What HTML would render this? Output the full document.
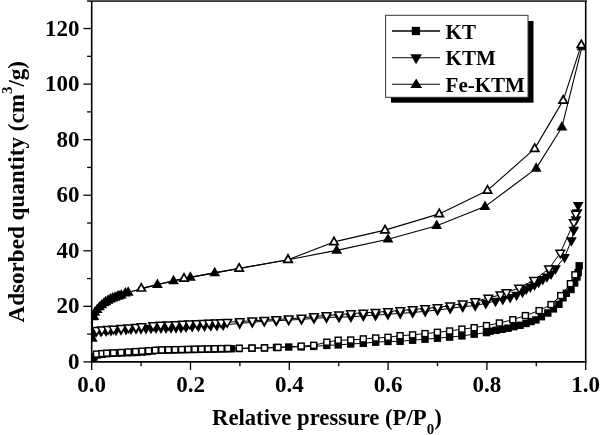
<!DOCTYPE html>
<html><head><meta charset="utf-8"><style>
html,body{margin:0;padding:0;background:#fff;}
body{width:600px;height:435px;overflow:hidden;font-family:"Liberation Serif",serif;}
svg{display:block;will-change:transform;}
</style></head><body>
<svg width="600" height="435" viewBox="0 0 600 435">
<defs><clipPath id="pc"><rect x="91.70" y="0" width="494.00" height="361.90"/></clipPath></defs>
<rect width="600" height="435" fill="#fff"/>
<g clip-path="url(#pc)">
<polyline points="92.80,358.80 94.00,357.00 97.00,355.00 102.00,354.35 107.00,353.69 112.00,353.23 117.00,353.07 122.00,352.90 127.00,352.73 132.00,352.57 137.00,352.40 142.00,352.09 147.00,351.56 152.00,351.04 158.60,350.35 165.20,350.10 171.80,349.96 178.40,349.83 185.00,349.70 191.60,349.57 198.20,349.44 204.80,349.30 211.40,349.17 218.00,349.04 224.60,348.91 231.20,348.77 239.30,348.56 252.00,348.23 264.50,347.91 276.50,347.47 288.70,347.01 301.20,346.90 313.70,346.40 326.80,345.40 338.20,344.90 350.70,344.00 363.30,343.30 375.70,342.20 388.00,341.50 400.10,341.30 412.60,340.20 425.00,339.20 437.40,338.20 449.60,337.10 461.90,335.90 474.20,334.20 486.50,332.60 490.00,331.20 496.00,330.30 502.00,329.30 508.00,328.20 514.00,326.70 520.00,325.30 526.00,323.50 531.00,321.50 535.90,319.90 541.40,316.70 547.80,313.00 553.40,308.90 558.90,304.30 563.00,297.80 566.30,293.30 571.00,289.50 574.60,283.00 577.00,277.00 578.20,272.50 579.20,265.80" fill="none" stroke="#000" stroke-width="1.00" stroke-linejoin="round"/>
<polyline points="96.50,354.10 102.00,353.60 106.70,353.20 113.50,352.90 121.00,352.50 128.30,352.00 135.60,351.60 142.00,351.17 148.60,350.74 155.20,350.31 161.80,349.96 168.40,349.81 175.00,349.66 181.60,349.51 188.20,349.36 194.80,349.20 201.40,349.05 208.00,348.90 214.60,348.75 221.20,348.60 227.80,348.45 239.30,348.27 252.00,348.09 264.50,347.91 278.00,347.43 301.20,346.10 313.70,345.30 326.80,342.20 338.20,340.20 350.70,340.00 363.30,338.90 375.70,338.00 388.00,337.30 400.10,335.70 412.60,334.85 425.00,333.60 437.40,332.30 449.60,331.00 461.90,329.10 474.20,327.70 486.50,325.60 499.40,323.00 512.80,319.70 525.40,315.60 539.10,310.60 551.00,304.60 560.70,295.60 570.40,283.70 574.90,274.80" fill="none" stroke="#000" stroke-width="1.00" stroke-linejoin="round"/>
<polyline points="93.50,332.00 96.00,331.89 101.00,331.39 106.00,330.70 111.00,330.37 116.00,330.02 121.00,329.62 126.00,329.23 131.00,328.87 136.00,328.65 141.00,328.45 146.00,328.20 151.00,327.99 156.00,327.92 161.00,327.85 166.00,327.77 171.00,327.60 176.00,327.43 181.00,327.23 186.00,326.85 192.20,326.39 198.40,326.00 204.60,325.74 210.80,325.48 217.00,325.20 223.20,324.89 239.70,323.47 252.30,322.25 264.30,321.28 276.30,320.68 288.70,320.05 301.50,319.40 314.00,318.40 326.50,317.50 339.00,317.10 350.90,316.90 363.30,315.80 375.50,315.20 387.90,314.20 400.20,313.40 412.70,312.50 425.20,311.30 437.50,310.00 450.20,308.40 462.70,306.70 475.20,305.50 485.80,303.30 495.50,301.00 502.80,299.20 510.20,297.30 516.60,295.00 522.50,292.00 526.20,289.00 530.30,286.90 534.50,284.80 538.60,282.10 542.80,279.30 546.90,276.60 551.00,273.80 555.50,268.50 564.50,257.30 571.40,240.50 573.80,230.00 576.00,219.50 577.20,212.50 578.20,205.20" fill="none" stroke="#000" stroke-width="1.00" stroke-linejoin="round"/>
<polyline points="96.70,330.21 102.00,329.79 108.00,329.32 113.50,328.89 121.25,328.28 128.50,327.71 136.00,327.11 141.50,326.57 153.20,325.37 160.70,325.03 168.40,324.68 175.70,324.35 183.00,324.03 189.50,323.74 196.80,323.44 203.30,323.18 209.10,322.95 215.60,322.68 221.20,322.46 227.20,322.21 239.70,321.54 252.30,320.82 264.30,320.13 276.30,319.45 288.70,318.73 301.50,318.00 314.00,316.50 326.50,315.50 339.00,314.70 350.90,313.50 363.30,312.90 375.50,312.20 387.90,311.40 400.20,310.50 412.70,309.50 425.20,308.40 437.50,307.40 450.20,305.70 462.70,303.60 475.20,301.50 488.30,298.00 500.50,294.80 506.50,292.50 519.10,287.90 534.10,280.20 549.00,268.70 560.30,252.90 573.80,222.40 575.80,214.00" fill="none" stroke="#000" stroke-width="1.00" stroke-linejoin="round"/>
<polyline points="92.30,338.40 92.60,317.00 93.90,316.70 94.90,312.40 97.20,309.70 99.50,307.00 101.80,305.00 104.10,303.00 105.80,301.90 108.10,300.40 110.40,299.20 112.70,298.20 115.00,297.40 117.30,296.50 119.00,295.90 121.30,295.20 125.40,293.20 128.20,292.40 157.40,284.70 173.50,280.90 190.40,277.40 214.70,272.90 288.00,259.70 336.70,250.40 388.00,239.30 436.70,225.70 485.00,206.60 536.20,168.40 561.90,127.20 582.00,46.90" fill="none" stroke="#000" stroke-width="1.10" stroke-linejoin="round"/>
<polyline points="141.30,288.30 184.00,278.40 239.20,268.40 288.00,259.70 334.00,241.90 385.00,230.10 439.20,213.90 487.50,190.40 534.70,148.60 563.20,100.40 581.30,44.80" fill="none" stroke="#000" stroke-width="1.10" stroke-linejoin="round"/>
<rect x="89.10" y="355.10" width="7.40" height="7.40" fill="#000"/>
<rect x="90.30" y="353.30" width="7.40" height="7.40" fill="#000"/>
<rect x="93.30" y="351.30" width="7.40" height="7.40" fill="#000"/>
<rect x="98.30" y="350.65" width="7.40" height="7.40" fill="#000"/>
<rect x="103.30" y="349.99" width="7.40" height="7.40" fill="#000"/>
<rect x="108.30" y="349.53" width="7.40" height="7.40" fill="#000"/>
<rect x="113.30" y="349.37" width="7.40" height="7.40" fill="#000"/>
<rect x="118.30" y="349.20" width="7.40" height="7.40" fill="#000"/>
<rect x="123.30" y="349.03" width="7.40" height="7.40" fill="#000"/>
<rect x="128.30" y="348.87" width="7.40" height="7.40" fill="#000"/>
<rect x="133.30" y="348.70" width="7.40" height="7.40" fill="#000"/>
<rect x="138.30" y="348.39" width="7.40" height="7.40" fill="#000"/>
<rect x="143.30" y="347.87" width="7.40" height="7.40" fill="#000"/>
<rect x="148.30" y="347.34" width="7.40" height="7.40" fill="#000"/>
<rect x="154.90" y="346.65" width="7.40" height="7.40" fill="#000"/>
<rect x="161.50" y="346.40" width="7.40" height="7.40" fill="#000"/>
<rect x="168.10" y="346.26" width="7.40" height="7.40" fill="#000"/>
<rect x="174.70" y="346.13" width="7.40" height="7.40" fill="#000"/>
<rect x="181.30" y="346.00" width="7.40" height="7.40" fill="#000"/>
<rect x="187.90" y="345.87" width="7.40" height="7.40" fill="#000"/>
<rect x="194.50" y="345.74" width="7.40" height="7.40" fill="#000"/>
<rect x="201.10" y="345.60" width="7.40" height="7.40" fill="#000"/>
<rect x="207.70" y="345.47" width="7.40" height="7.40" fill="#000"/>
<rect x="214.30" y="345.34" width="7.40" height="7.40" fill="#000"/>
<rect x="220.90" y="345.21" width="7.40" height="7.40" fill="#000"/>
<rect x="227.50" y="345.07" width="7.40" height="7.40" fill="#000"/>
<rect x="235.60" y="344.86" width="7.40" height="7.40" fill="#000"/>
<rect x="248.30" y="344.53" width="7.40" height="7.40" fill="#000"/>
<rect x="260.80" y="344.21" width="7.40" height="7.40" fill="#000"/>
<rect x="272.80" y="343.77" width="7.40" height="7.40" fill="#000"/>
<rect x="285.00" y="343.31" width="7.40" height="7.40" fill="#000"/>
<rect x="297.50" y="343.20" width="7.40" height="7.40" fill="#000"/>
<rect x="310.00" y="342.70" width="7.40" height="7.40" fill="#000"/>
<rect x="323.10" y="341.70" width="7.40" height="7.40" fill="#000"/>
<rect x="334.50" y="341.20" width="7.40" height="7.40" fill="#000"/>
<rect x="347.00" y="340.30" width="7.40" height="7.40" fill="#000"/>
<rect x="359.60" y="339.60" width="7.40" height="7.40" fill="#000"/>
<rect x="372.00" y="338.50" width="7.40" height="7.40" fill="#000"/>
<rect x="384.30" y="337.80" width="7.40" height="7.40" fill="#000"/>
<rect x="396.40" y="337.60" width="7.40" height="7.40" fill="#000"/>
<rect x="408.90" y="336.50" width="7.40" height="7.40" fill="#000"/>
<rect x="421.30" y="335.50" width="7.40" height="7.40" fill="#000"/>
<rect x="433.70" y="334.50" width="7.40" height="7.40" fill="#000"/>
<rect x="445.90" y="333.40" width="7.40" height="7.40" fill="#000"/>
<rect x="458.20" y="332.20" width="7.40" height="7.40" fill="#000"/>
<rect x="470.50" y="330.50" width="7.40" height="7.40" fill="#000"/>
<rect x="482.80" y="328.90" width="7.40" height="7.40" fill="#000"/>
<rect x="486.30" y="327.50" width="7.40" height="7.40" fill="#000"/>
<rect x="492.30" y="326.60" width="7.40" height="7.40" fill="#000"/>
<rect x="498.30" y="325.60" width="7.40" height="7.40" fill="#000"/>
<rect x="504.30" y="324.50" width="7.40" height="7.40" fill="#000"/>
<rect x="510.30" y="323.00" width="7.40" height="7.40" fill="#000"/>
<rect x="516.30" y="321.60" width="7.40" height="7.40" fill="#000"/>
<rect x="522.30" y="319.80" width="7.40" height="7.40" fill="#000"/>
<rect x="527.30" y="317.80" width="7.40" height="7.40" fill="#000"/>
<rect x="532.20" y="316.20" width="7.40" height="7.40" fill="#000"/>
<rect x="537.70" y="313.00" width="7.40" height="7.40" fill="#000"/>
<rect x="544.10" y="309.30" width="7.40" height="7.40" fill="#000"/>
<rect x="549.70" y="305.20" width="7.40" height="7.40" fill="#000"/>
<rect x="555.20" y="300.60" width="7.40" height="7.40" fill="#000"/>
<rect x="559.30" y="294.10" width="7.40" height="7.40" fill="#000"/>
<rect x="562.60" y="289.60" width="7.40" height="7.40" fill="#000"/>
<rect x="567.30" y="285.80" width="7.40" height="7.40" fill="#000"/>
<rect x="570.90" y="279.30" width="7.40" height="7.40" fill="#000"/>
<rect x="573.30" y="273.30" width="7.40" height="7.40" fill="#000"/>
<rect x="574.50" y="268.80" width="7.40" height="7.40" fill="#000"/>
<rect x="575.50" y="262.10" width="7.40" height="7.40" fill="#000"/>
<rect x="92.80" y="350.40" width="7.40" height="7.40" fill="#000"/><rect x="94.25" y="351.85" width="4.50" height="4.50" fill="#fff"/>
<rect x="98.30" y="349.90" width="7.40" height="7.40" fill="#000"/><rect x="99.75" y="351.35" width="4.50" height="4.50" fill="#fff"/>
<rect x="103.00" y="349.50" width="7.40" height="7.40" fill="#000"/><rect x="104.45" y="350.95" width="4.50" height="4.50" fill="#fff"/>
<rect x="109.80" y="349.20" width="7.40" height="7.40" fill="#000"/><rect x="111.25" y="350.65" width="4.50" height="4.50" fill="#fff"/>
<rect x="117.30" y="348.80" width="7.40" height="7.40" fill="#000"/><rect x="118.75" y="350.25" width="4.50" height="4.50" fill="#fff"/>
<rect x="124.60" y="348.30" width="7.40" height="7.40" fill="#000"/><rect x="126.05" y="349.75" width="4.50" height="4.50" fill="#fff"/>
<rect x="131.90" y="347.90" width="7.40" height="7.40" fill="#000"/><rect x="133.35" y="349.35" width="4.50" height="4.50" fill="#fff"/>
<rect x="138.30" y="347.47" width="7.40" height="7.40" fill="#000"/><rect x="139.75" y="348.92" width="4.50" height="4.50" fill="#fff"/>
<rect x="144.90" y="347.04" width="7.40" height="7.40" fill="#000"/><rect x="146.35" y="348.49" width="4.50" height="4.50" fill="#fff"/>
<rect x="151.50" y="346.61" width="7.40" height="7.40" fill="#000"/><rect x="152.95" y="348.06" width="4.50" height="4.50" fill="#fff"/>
<rect x="158.10" y="346.26" width="7.40" height="7.40" fill="#000"/><rect x="159.55" y="347.71" width="4.50" height="4.50" fill="#fff"/>
<rect x="164.70" y="346.11" width="7.40" height="7.40" fill="#000"/><rect x="166.15" y="347.56" width="4.50" height="4.50" fill="#fff"/>
<rect x="171.30" y="345.96" width="7.40" height="7.40" fill="#000"/><rect x="172.75" y="347.41" width="4.50" height="4.50" fill="#fff"/>
<rect x="177.90" y="345.81" width="7.40" height="7.40" fill="#000"/><rect x="179.35" y="347.26" width="4.50" height="4.50" fill="#fff"/>
<rect x="184.50" y="345.66" width="7.40" height="7.40" fill="#000"/><rect x="185.95" y="347.11" width="4.50" height="4.50" fill="#fff"/>
<rect x="191.10" y="345.50" width="7.40" height="7.40" fill="#000"/><rect x="192.55" y="346.95" width="4.50" height="4.50" fill="#fff"/>
<rect x="197.70" y="345.35" width="7.40" height="7.40" fill="#000"/><rect x="199.15" y="346.80" width="4.50" height="4.50" fill="#fff"/>
<rect x="204.30" y="345.20" width="7.40" height="7.40" fill="#000"/><rect x="205.75" y="346.65" width="4.50" height="4.50" fill="#fff"/>
<rect x="210.90" y="345.05" width="7.40" height="7.40" fill="#000"/><rect x="212.35" y="346.50" width="4.50" height="4.50" fill="#fff"/>
<rect x="217.50" y="344.90" width="7.40" height="7.40" fill="#000"/><rect x="218.95" y="346.35" width="4.50" height="4.50" fill="#fff"/>
<rect x="224.10" y="344.75" width="7.40" height="7.40" fill="#000"/><rect x="225.55" y="346.20" width="4.50" height="4.50" fill="#fff"/>
<rect x="235.60" y="344.57" width="7.40" height="7.40" fill="#000"/><rect x="237.05" y="346.02" width="4.50" height="4.50" fill="#fff"/>
<rect x="248.30" y="344.39" width="7.40" height="7.40" fill="#000"/><rect x="249.75" y="345.84" width="4.50" height="4.50" fill="#fff"/>
<rect x="260.80" y="344.21" width="7.40" height="7.40" fill="#000"/><rect x="262.25" y="345.66" width="4.50" height="4.50" fill="#fff"/>
<rect x="274.30" y="343.73" width="7.40" height="7.40" fill="#000"/><rect x="275.75" y="345.18" width="4.50" height="4.50" fill="#fff"/>
<rect x="297.50" y="342.40" width="7.40" height="7.40" fill="#000"/><rect x="298.95" y="343.85" width="4.50" height="4.50" fill="#fff"/>
<rect x="310.00" y="341.60" width="7.40" height="7.40" fill="#000"/><rect x="311.45" y="343.05" width="4.50" height="4.50" fill="#fff"/>
<rect x="323.10" y="338.50" width="7.40" height="7.40" fill="#000"/><rect x="324.55" y="339.95" width="4.50" height="4.50" fill="#fff"/>
<rect x="334.50" y="336.50" width="7.40" height="7.40" fill="#000"/><rect x="335.95" y="337.95" width="4.50" height="4.50" fill="#fff"/>
<rect x="347.00" y="336.30" width="7.40" height="7.40" fill="#000"/><rect x="348.45" y="337.75" width="4.50" height="4.50" fill="#fff"/>
<rect x="359.60" y="335.20" width="7.40" height="7.40" fill="#000"/><rect x="361.05" y="336.65" width="4.50" height="4.50" fill="#fff"/>
<rect x="372.00" y="334.30" width="7.40" height="7.40" fill="#000"/><rect x="373.45" y="335.75" width="4.50" height="4.50" fill="#fff"/>
<rect x="384.30" y="333.60" width="7.40" height="7.40" fill="#000"/><rect x="385.75" y="335.05" width="4.50" height="4.50" fill="#fff"/>
<rect x="396.40" y="332.00" width="7.40" height="7.40" fill="#000"/><rect x="397.85" y="333.45" width="4.50" height="4.50" fill="#fff"/>
<rect x="408.90" y="331.15" width="7.40" height="7.40" fill="#000"/><rect x="410.35" y="332.60" width="4.50" height="4.50" fill="#fff"/>
<rect x="421.30" y="329.90" width="7.40" height="7.40" fill="#000"/><rect x="422.75" y="331.35" width="4.50" height="4.50" fill="#fff"/>
<rect x="433.70" y="328.60" width="7.40" height="7.40" fill="#000"/><rect x="435.15" y="330.05" width="4.50" height="4.50" fill="#fff"/>
<rect x="445.90" y="327.30" width="7.40" height="7.40" fill="#000"/><rect x="447.35" y="328.75" width="4.50" height="4.50" fill="#fff"/>
<rect x="458.20" y="325.40" width="7.40" height="7.40" fill="#000"/><rect x="459.65" y="326.85" width="4.50" height="4.50" fill="#fff"/>
<rect x="470.50" y="324.00" width="7.40" height="7.40" fill="#000"/><rect x="471.95" y="325.45" width="4.50" height="4.50" fill="#fff"/>
<rect x="482.80" y="321.90" width="7.40" height="7.40" fill="#000"/><rect x="484.25" y="323.35" width="4.50" height="4.50" fill="#fff"/>
<rect x="495.70" y="319.30" width="7.40" height="7.40" fill="#000"/><rect x="497.15" y="320.75" width="4.50" height="4.50" fill="#fff"/>
<rect x="509.10" y="316.00" width="7.40" height="7.40" fill="#000"/><rect x="510.55" y="317.45" width="4.50" height="4.50" fill="#fff"/>
<rect x="521.70" y="311.90" width="7.40" height="7.40" fill="#000"/><rect x="523.15" y="313.35" width="4.50" height="4.50" fill="#fff"/>
<rect x="535.40" y="306.90" width="7.40" height="7.40" fill="#000"/><rect x="536.85" y="308.35" width="4.50" height="4.50" fill="#fff"/>
<rect x="547.30" y="300.90" width="7.40" height="7.40" fill="#000"/><rect x="548.75" y="302.35" width="4.50" height="4.50" fill="#fff"/>
<rect x="557.00" y="291.90" width="7.40" height="7.40" fill="#000"/><rect x="558.45" y="293.35" width="4.50" height="4.50" fill="#fff"/>
<rect x="566.70" y="280.00" width="7.40" height="7.40" fill="#000"/><rect x="568.15" y="281.45" width="4.50" height="4.50" fill="#fff"/>
<rect x="571.20" y="271.10" width="7.40" height="7.40" fill="#000"/><rect x="572.65" y="272.55" width="4.50" height="4.50" fill="#fff"/>
<polygon points="88.10,328.80 98.90,328.80 93.50,338.20" fill="#000"/>
<polygon points="90.60,328.69 101.40,328.69 96.00,338.09" fill="#000"/>
<polygon points="95.60,328.19 106.40,328.19 101.00,337.59" fill="#000"/>
<polygon points="100.60,327.50 111.40,327.50 106.00,336.90" fill="#000"/>
<polygon points="105.60,327.17 116.40,327.17 111.00,336.57" fill="#000"/>
<polygon points="110.60,326.82 121.40,326.82 116.00,336.22" fill="#000"/>
<polygon points="115.60,326.42 126.40,326.42 121.00,335.82" fill="#000"/>
<polygon points="120.60,326.03 131.40,326.03 126.00,335.43" fill="#000"/>
<polygon points="125.60,325.67 136.40,325.67 131.00,335.07" fill="#000"/>
<polygon points="130.60,325.45 141.40,325.45 136.00,334.85" fill="#000"/>
<polygon points="135.60,325.25 146.40,325.25 141.00,334.65" fill="#000"/>
<polygon points="140.60,325.00 151.40,325.00 146.00,334.40" fill="#000"/>
<polygon points="145.60,324.79 156.40,324.79 151.00,334.19" fill="#000"/>
<polygon points="150.60,324.72 161.40,324.72 156.00,334.12" fill="#000"/>
<polygon points="155.60,324.65 166.40,324.65 161.00,334.05" fill="#000"/>
<polygon points="160.60,324.57 171.40,324.57 166.00,333.97" fill="#000"/>
<polygon points="165.60,324.40 176.40,324.40 171.00,333.80" fill="#000"/>
<polygon points="170.60,324.23 181.40,324.23 176.00,333.63" fill="#000"/>
<polygon points="175.60,324.03 186.40,324.03 181.00,333.43" fill="#000"/>
<polygon points="180.60,323.65 191.40,323.65 186.00,333.05" fill="#000"/>
<polygon points="186.80,323.19 197.60,323.19 192.20,332.59" fill="#000"/>
<polygon points="193.00,322.80 203.80,322.80 198.40,332.20" fill="#000"/>
<polygon points="199.20,322.54 210.00,322.54 204.60,331.94" fill="#000"/>
<polygon points="205.40,322.28 216.20,322.28 210.80,331.68" fill="#000"/>
<polygon points="211.60,322.00 222.40,322.00 217.00,331.40" fill="#000"/>
<polygon points="217.80,321.69 228.60,321.69 223.20,331.09" fill="#000"/>
<polygon points="234.30,320.27 245.10,320.27 239.70,329.67" fill="#000"/>
<polygon points="246.90,319.05 257.70,319.05 252.30,328.45" fill="#000"/>
<polygon points="258.90,318.08 269.70,318.08 264.30,327.48" fill="#000"/>
<polygon points="270.90,317.48 281.70,317.48 276.30,326.88" fill="#000"/>
<polygon points="283.30,316.85 294.10,316.85 288.70,326.25" fill="#000"/>
<polygon points="296.10,316.20 306.90,316.20 301.50,325.60" fill="#000"/>
<polygon points="308.60,315.20 319.40,315.20 314.00,324.60" fill="#000"/>
<polygon points="321.10,314.30 331.90,314.30 326.50,323.70" fill="#000"/>
<polygon points="333.60,313.90 344.40,313.90 339.00,323.30" fill="#000"/>
<polygon points="345.50,313.70 356.30,313.70 350.90,323.10" fill="#000"/>
<polygon points="357.90,312.60 368.70,312.60 363.30,322.00" fill="#000"/>
<polygon points="370.10,312.00 380.90,312.00 375.50,321.40" fill="#000"/>
<polygon points="382.50,311.00 393.30,311.00 387.90,320.40" fill="#000"/>
<polygon points="394.80,310.20 405.60,310.20 400.20,319.60" fill="#000"/>
<polygon points="407.30,309.30 418.10,309.30 412.70,318.70" fill="#000"/>
<polygon points="419.80,308.10 430.60,308.10 425.20,317.50" fill="#000"/>
<polygon points="432.10,306.80 442.90,306.80 437.50,316.20" fill="#000"/>
<polygon points="444.80,305.20 455.60,305.20 450.20,314.60" fill="#000"/>
<polygon points="457.30,303.50 468.10,303.50 462.70,312.90" fill="#000"/>
<polygon points="469.80,302.30 480.60,302.30 475.20,311.70" fill="#000"/>
<polygon points="480.40,300.10 491.20,300.10 485.80,309.50" fill="#000"/>
<polygon points="490.10,297.80 500.90,297.80 495.50,307.20" fill="#000"/>
<polygon points="497.40,296.00 508.20,296.00 502.80,305.40" fill="#000"/>
<polygon points="504.80,294.10 515.60,294.10 510.20,303.50" fill="#000"/>
<polygon points="511.20,291.80 522.00,291.80 516.60,301.20" fill="#000"/>
<polygon points="517.10,288.80 527.90,288.80 522.50,298.20" fill="#000"/>
<polygon points="520.80,285.80 531.60,285.80 526.20,295.20" fill="#000"/>
<polygon points="524.90,283.70 535.70,283.70 530.30,293.10" fill="#000"/>
<polygon points="529.10,281.60 539.90,281.60 534.50,291.00" fill="#000"/>
<polygon points="533.20,278.90 544.00,278.90 538.60,288.30" fill="#000"/>
<polygon points="537.40,276.10 548.20,276.10 542.80,285.50" fill="#000"/>
<polygon points="541.50,273.40 552.30,273.40 546.90,282.80" fill="#000"/>
<polygon points="545.60,270.60 556.40,270.60 551.00,280.00" fill="#000"/>
<polygon points="550.10,265.30 560.90,265.30 555.50,274.70" fill="#000"/>
<polygon points="559.10,254.10 569.90,254.10 564.50,263.50" fill="#000"/>
<polygon points="566.00,237.30 576.80,237.30 571.40,246.70" fill="#000"/>
<polygon points="568.40,226.80 579.20,226.80 573.80,236.20" fill="#000"/>
<polygon points="570.60,216.30 581.40,216.30 576.00,225.70" fill="#000"/>
<polygon points="571.80,209.30 582.60,209.30 577.20,218.70" fill="#000"/>
<polygon points="572.80,202.00 583.60,202.00 578.20,211.40" fill="#000"/>
<polygon points="91.10,326.76 102.30,326.76 96.70,336.66" fill="#000"/><polygon points="93.67,328.26 99.73,328.26 96.70,333.61" fill="#fff"/>
<polygon points="96.40,326.34 107.60,326.34 102.00,336.24" fill="#000"/><polygon points="98.97,327.84 105.03,327.84 102.00,333.19" fill="#fff"/>
<polygon points="102.40,325.87 113.60,325.87 108.00,335.77" fill="#000"/><polygon points="104.97,327.37 111.03,327.37 108.00,332.72" fill="#fff"/>
<polygon points="107.90,325.44 119.10,325.44 113.50,335.34" fill="#000"/><polygon points="110.47,326.94 116.53,326.94 113.50,332.29" fill="#fff"/>
<polygon points="115.65,324.83 126.85,324.83 121.25,334.73" fill="#000"/><polygon points="118.22,326.33 124.28,326.33 121.25,331.68" fill="#fff"/>
<polygon points="122.90,324.26 134.10,324.26 128.50,334.16" fill="#000"/><polygon points="125.47,325.76 131.53,325.76 128.50,331.11" fill="#fff"/>
<polygon points="130.40,323.66 141.60,323.66 136.00,333.56" fill="#000"/><polygon points="132.97,325.16 139.03,325.16 136.00,330.52" fill="#fff"/>
<polygon points="135.90,323.12 147.10,323.12 141.50,333.02" fill="#000"/><polygon points="138.47,324.62 144.53,324.62 141.50,329.98" fill="#fff"/>
<polygon points="147.60,321.92 158.80,321.92 153.20,331.82" fill="#000"/><polygon points="150.17,323.42 156.23,323.42 153.20,328.77" fill="#fff"/>
<polygon points="155.10,321.58 166.30,321.58 160.70,331.48" fill="#000"/><polygon points="157.67,323.08 163.73,323.08 160.70,328.43" fill="#fff"/>
<polygon points="162.80,321.23 174.00,321.23 168.40,331.13" fill="#000"/><polygon points="165.37,322.73 171.43,322.73 168.40,328.09" fill="#fff"/>
<polygon points="170.10,320.90 181.30,320.90 175.70,330.80" fill="#000"/><polygon points="172.67,322.40 178.73,322.40 175.70,327.76" fill="#fff"/>
<polygon points="177.40,320.58 188.60,320.58 183.00,330.48" fill="#000"/><polygon points="179.97,322.08 186.03,322.08 183.00,327.43" fill="#fff"/>
<polygon points="183.90,320.29 195.10,320.29 189.50,330.19" fill="#000"/><polygon points="186.47,321.79 192.53,321.79 189.50,327.14" fill="#fff"/>
<polygon points="191.20,319.99 202.40,319.99 196.80,329.89" fill="#000"/><polygon points="193.77,321.49 199.83,321.49 196.80,326.85" fill="#fff"/>
<polygon points="197.70,319.73 208.90,319.73 203.30,329.63" fill="#000"/><polygon points="200.27,321.23 206.33,321.23 203.30,326.58" fill="#fff"/>
<polygon points="203.50,319.50 214.70,319.50 209.10,329.40" fill="#000"/><polygon points="206.07,321.00 212.13,321.00 209.10,326.35" fill="#fff"/>
<polygon points="210.00,319.23 221.20,319.23 215.60,329.13" fill="#000"/><polygon points="212.57,320.73 218.63,320.73 215.60,326.09" fill="#fff"/>
<polygon points="215.60,319.01 226.80,319.01 221.20,328.91" fill="#000"/><polygon points="218.17,320.51 224.23,320.51 221.20,325.86" fill="#fff"/>
<polygon points="221.60,318.76 232.80,318.76 227.20,328.66" fill="#000"/><polygon points="224.17,320.26 230.23,320.26 227.20,325.62" fill="#fff"/>
<polygon points="234.10,318.09 245.30,318.09 239.70,327.99" fill="#000"/><polygon points="236.67,319.59 242.73,319.59 239.70,324.95" fill="#fff"/>
<polygon points="246.70,317.37 257.90,317.37 252.30,327.27" fill="#000"/><polygon points="249.27,318.87 255.33,318.87 252.30,324.22" fill="#fff"/>
<polygon points="258.70,316.68 269.90,316.68 264.30,326.58" fill="#000"/><polygon points="261.27,318.18 267.33,318.18 264.30,323.54" fill="#fff"/>
<polygon points="270.70,316.00 281.90,316.00 276.30,325.90" fill="#000"/><polygon points="273.27,317.50 279.33,317.50 276.30,322.85" fill="#fff"/>
<polygon points="283.10,315.28 294.30,315.28 288.70,325.18" fill="#000"/><polygon points="285.67,316.78 291.73,316.78 288.70,322.14" fill="#fff"/>
<polygon points="295.90,314.55 307.10,314.55 301.50,324.45" fill="#000"/><polygon points="298.47,316.05 304.53,316.05 301.50,321.40" fill="#fff"/>
<polygon points="308.40,313.05 319.60,313.05 314.00,322.95" fill="#000"/><polygon points="310.97,314.55 317.03,314.55 314.00,319.90" fill="#fff"/>
<polygon points="320.90,312.05 332.10,312.05 326.50,321.95" fill="#000"/><polygon points="323.47,313.55 329.53,313.55 326.50,318.90" fill="#fff"/>
<polygon points="333.40,311.25 344.60,311.25 339.00,321.15" fill="#000"/><polygon points="335.97,312.75 342.03,312.75 339.00,318.10" fill="#fff"/>
<polygon points="345.30,310.05 356.50,310.05 350.90,319.95" fill="#000"/><polygon points="347.87,311.55 353.93,311.55 350.90,316.90" fill="#fff"/>
<polygon points="357.70,309.45 368.90,309.45 363.30,319.35" fill="#000"/><polygon points="360.27,310.95 366.33,310.95 363.30,316.30" fill="#fff"/>
<polygon points="369.90,308.75 381.10,308.75 375.50,318.65" fill="#000"/><polygon points="372.47,310.25 378.53,310.25 375.50,315.60" fill="#fff"/>
<polygon points="382.30,307.95 393.50,307.95 387.90,317.85" fill="#000"/><polygon points="384.87,309.45 390.93,309.45 387.90,314.80" fill="#fff"/>
<polygon points="394.60,307.05 405.80,307.05 400.20,316.95" fill="#000"/><polygon points="397.17,308.55 403.23,308.55 400.20,313.90" fill="#fff"/>
<polygon points="407.10,306.05 418.30,306.05 412.70,315.95" fill="#000"/><polygon points="409.67,307.55 415.73,307.55 412.70,312.90" fill="#fff"/>
<polygon points="419.60,304.95 430.80,304.95 425.20,314.85" fill="#000"/><polygon points="422.17,306.45 428.23,306.45 425.20,311.80" fill="#fff"/>
<polygon points="431.90,303.95 443.10,303.95 437.50,313.85" fill="#000"/><polygon points="434.47,305.45 440.53,305.45 437.50,310.80" fill="#fff"/>
<polygon points="444.60,302.25 455.80,302.25 450.20,312.15" fill="#000"/><polygon points="447.17,303.75 453.23,303.75 450.20,309.10" fill="#fff"/>
<polygon points="457.10,300.15 468.30,300.15 462.70,310.05" fill="#000"/><polygon points="459.67,301.65 465.73,301.65 462.70,307.00" fill="#fff"/>
<polygon points="469.60,298.05 480.80,298.05 475.20,307.95" fill="#000"/><polygon points="472.17,299.55 478.23,299.55 475.20,304.90" fill="#fff"/>
<polygon points="482.70,294.55 493.90,294.55 488.30,304.45" fill="#000"/><polygon points="485.27,296.05 491.33,296.05 488.30,301.40" fill="#fff"/>
<polygon points="494.90,291.35 506.10,291.35 500.50,301.25" fill="#000"/><polygon points="497.47,292.85 503.53,292.85 500.50,298.20" fill="#fff"/>
<polygon points="500.90,289.05 512.10,289.05 506.50,298.95" fill="#000"/><polygon points="503.47,290.55 509.53,290.55 506.50,295.90" fill="#fff"/>
<polygon points="513.50,284.45 524.70,284.45 519.10,294.35" fill="#000"/><polygon points="516.07,285.95 522.13,285.95 519.10,291.30" fill="#fff"/>
<polygon points="528.50,276.75 539.70,276.75 534.10,286.65" fill="#000"/><polygon points="531.07,278.25 537.13,278.25 534.10,283.60" fill="#fff"/>
<polygon points="543.40,265.25 554.60,265.25 549.00,275.15" fill="#000"/><polygon points="545.97,266.75 552.03,266.75 549.00,272.10" fill="#fff"/>
<polygon points="554.70,249.45 565.90,249.45 560.30,259.35" fill="#000"/><polygon points="557.27,250.95 563.33,250.95 560.30,256.30" fill="#fff"/>
<polygon points="568.20,218.95 579.40,218.95 573.80,228.85" fill="#000"/><polygon points="570.77,220.45 576.83,220.45 573.80,225.80" fill="#fff"/>
<polygon points="570.20,210.55 581.40,210.55 575.80,220.45" fill="#000"/><polygon points="572.77,212.05 578.83,212.05 575.80,217.40" fill="#fff"/>
<polygon points="92.30,332.30 97.70,341.70 86.90,341.70" fill="#000"/>
<polygon points="92.60,310.90 98.00,320.30 87.20,320.30" fill="#000"/>
<polygon points="93.90,310.60 99.30,320.00 88.50,320.00" fill="#000"/>
<polygon points="94.90,306.30 100.30,315.70 89.50,315.70" fill="#000"/>
<polygon points="97.20,303.60 102.60,313.00 91.80,313.00" fill="#000"/>
<polygon points="99.50,300.90 104.90,310.30 94.10,310.30" fill="#000"/>
<polygon points="101.80,298.90 107.20,308.30 96.40,308.30" fill="#000"/>
<polygon points="104.10,296.90 109.50,306.30 98.70,306.30" fill="#000"/>
<polygon points="105.80,295.80 111.20,305.20 100.40,305.20" fill="#000"/>
<polygon points="108.10,294.30 113.50,303.70 102.70,303.70" fill="#000"/>
<polygon points="110.40,293.10 115.80,302.50 105.00,302.50" fill="#000"/>
<polygon points="112.70,292.10 118.10,301.50 107.30,301.50" fill="#000"/>
<polygon points="115.00,291.30 120.40,300.70 109.60,300.70" fill="#000"/>
<polygon points="117.30,290.40 122.70,299.80 111.90,299.80" fill="#000"/>
<polygon points="119.00,289.80 124.40,299.20 113.60,299.20" fill="#000"/>
<polygon points="121.30,289.10 126.70,298.50 115.90,298.50" fill="#000"/>
<polygon points="125.40,287.10 130.80,296.50 120.00,296.50" fill="#000"/>
<polygon points="128.20,286.30 133.60,295.70 122.80,295.70" fill="#000"/>
<polygon points="157.40,278.60 162.80,288.00 152.00,288.00" fill="#000"/>
<polygon points="173.50,274.80 178.90,284.20 168.10,284.20" fill="#000"/>
<polygon points="190.40,271.30 195.80,280.70 185.00,280.70" fill="#000"/>
<polygon points="214.70,266.80 220.10,276.20 209.30,276.20" fill="#000"/>
<polygon points="288.00,253.60 293.40,263.00 282.60,263.00" fill="#000"/>
<polygon points="336.70,244.30 342.10,253.70 331.30,253.70" fill="#000"/>
<polygon points="388.00,233.20 393.40,242.60 382.60,242.60" fill="#000"/>
<polygon points="436.70,219.60 442.10,229.00 431.30,229.00" fill="#000"/>
<polygon points="485.00,200.50 490.40,209.90 479.60,209.90" fill="#000"/>
<polygon points="536.20,162.30 541.60,171.70 530.80,171.70" fill="#000"/>
<polygon points="561.90,121.10 567.30,130.50 556.50,130.50" fill="#000"/>
<polygon points="582.00,40.80 587.40,50.20 576.60,50.20" fill="#000"/>
<polygon points="141.30,281.95 146.90,291.85 135.70,291.85" fill="#000"/><polygon points="141.30,285.40 143.99,290.15 138.61,290.15" fill="#fff"/>
<polygon points="184.00,272.05 189.60,281.95 178.40,281.95" fill="#000"/><polygon points="184.00,275.50 186.69,280.25 181.31,280.25" fill="#fff"/>
<polygon points="239.20,262.05 244.80,271.95 233.60,271.95" fill="#000"/><polygon points="239.20,265.50 241.89,270.25 236.51,270.25" fill="#fff"/>
<polygon points="288.00,253.35 293.60,263.25 282.40,263.25" fill="#000"/><polygon points="288.00,256.80 290.69,261.55 285.31,261.55" fill="#fff"/>
<polygon points="334.00,235.55 339.60,245.45 328.40,245.45" fill="#000"/><polygon points="334.00,239.00 336.69,243.75 331.31,243.75" fill="#fff"/>
<polygon points="385.00,223.75 390.60,233.65 379.40,233.65" fill="#000"/><polygon points="385.00,227.20 387.69,231.95 382.31,231.95" fill="#fff"/>
<polygon points="439.20,207.55 444.80,217.45 433.60,217.45" fill="#000"/><polygon points="439.20,211.00 441.89,215.75 436.51,215.75" fill="#fff"/>
<polygon points="487.50,184.05 493.10,193.95 481.90,193.95" fill="#000"/><polygon points="487.50,187.50 490.19,192.25 484.81,192.25" fill="#fff"/>
<polygon points="534.70,142.25 540.30,152.15 529.10,152.15" fill="#000"/><polygon points="534.70,145.70 537.39,150.45 532.01,150.45" fill="#fff"/>
<polygon points="563.20,94.05 568.80,103.95 557.60,103.95" fill="#000"/><polygon points="563.20,97.50 565.89,102.25 560.51,102.25" fill="#fff"/>
<polygon points="581.30,38.45 586.90,48.35 575.70,48.35" fill="#000"/><polygon points="581.30,41.90 583.99,46.65 578.61,46.65" fill="#fff"/>
</g>
<g stroke="#000" fill="none" stroke-linecap="butt">
<line x1="91.70" y1="0.00" x2="91.70" y2="362.70" stroke-width="1.60"/>
<line x1="585.70" y1="0.00" x2="585.70" y2="362.70" stroke-width="1.60"/>
<line x1="90.90" y1="361.90" x2="586.50" y2="361.90" stroke-width="1.60"/>
<rect x="87.10" y="0" width="499.40" height="1" fill="#5a5a5a" stroke="none"/>
<rect x="87.10" y="1" width="499.40" height="0.8" fill="#000" stroke="none"/>
<line x1="91.70" y1="361.90" x2="91.70" y2="369.90" stroke-width="1.30"/>
<line x1="141.10" y1="361.90" x2="141.10" y2="366.20" stroke-width="1.30"/>
<line x1="190.50" y1="361.90" x2="190.50" y2="369.90" stroke-width="1.30"/>
<line x1="239.90" y1="361.90" x2="239.90" y2="366.20" stroke-width="1.30"/>
<line x1="289.30" y1="361.90" x2="289.30" y2="369.90" stroke-width="1.30"/>
<line x1="338.70" y1="361.90" x2="338.70" y2="366.20" stroke-width="1.30"/>
<line x1="388.10" y1="361.90" x2="388.10" y2="369.90" stroke-width="1.30"/>
<line x1="437.50" y1="361.90" x2="437.50" y2="366.20" stroke-width="1.30"/>
<line x1="486.90" y1="361.90" x2="486.90" y2="369.90" stroke-width="1.30"/>
<line x1="536.30" y1="361.90" x2="536.30" y2="366.20" stroke-width="1.30"/>
<line x1="585.70" y1="361.90" x2="585.70" y2="369.90" stroke-width="1.30"/>
<line x1="83.40" y1="361.90" x2="91.70" y2="361.90" stroke-width="1.30"/>
<line x1="87.10" y1="334.12" x2="91.70" y2="334.12" stroke-width="1.30"/>
<line x1="83.40" y1="306.34" x2="91.70" y2="306.34" stroke-width="1.30"/>
<line x1="87.10" y1="278.56" x2="91.70" y2="278.56" stroke-width="1.30"/>
<line x1="83.40" y1="250.78" x2="91.70" y2="250.78" stroke-width="1.30"/>
<line x1="87.10" y1="223.00" x2="91.70" y2="223.00" stroke-width="1.30"/>
<line x1="83.40" y1="195.22" x2="91.70" y2="195.22" stroke-width="1.30"/>
<line x1="87.10" y1="167.44" x2="91.70" y2="167.44" stroke-width="1.30"/>
<line x1="83.40" y1="139.66" x2="91.70" y2="139.66" stroke-width="1.30"/>
<line x1="87.10" y1="111.88" x2="91.70" y2="111.88" stroke-width="1.30"/>
<line x1="83.40" y1="84.10" x2="91.70" y2="84.10" stroke-width="1.30"/>
<line x1="87.10" y1="56.32" x2="91.70" y2="56.32" stroke-width="1.30"/>
<line x1="83.40" y1="28.54" x2="91.70" y2="28.54" stroke-width="1.30"/>
</g>
<g font-family="Liberation Serif" font-weight="bold" font-size="23" fill="#000">
<text x="91.70" y="392" text-anchor="middle">0.0</text>
<text x="190.50" y="392" text-anchor="middle">0.2</text>
<text x="289.30" y="392" text-anchor="middle">0.4</text>
<text x="388.10" y="392" text-anchor="middle">0.6</text>
<text x="486.90" y="392" text-anchor="middle">0.8</text>
<text x="585.70" y="392" text-anchor="middle">1.0</text>
<text x="79.5" y="368.90" text-anchor="end">0</text>
<text x="79.5" y="313.34" text-anchor="end">20</text>
<text x="79.5" y="257.78" text-anchor="end">40</text>
<text x="79.5" y="202.22" text-anchor="end">60</text>
<text x="79.5" y="146.66" text-anchor="end">80</text>
<text x="79.5" y="91.10" text-anchor="end">100</text>
<text x="79.5" y="35.54" text-anchor="end">120</text>
</g>
<text x="212" y="424.9" font-family="Liberation Serif" font-weight="bold" font-size="22.7" fill="#000">Relative pressure (P/P<tspan font-size="15" dy="9.5">0</tspan><tspan dy="-9.5">)</tspan></text>
<text transform="translate(23.9,322.5) rotate(-90)" font-family="Liberation Serif" font-weight="bold" font-size="23.1" fill="#000">Adsorbed quantity (cm<tspan font-size="15" dy="-12.3">3</tspan><tspan dy="12.3">/g)</tspan></text>
<rect x="391" y="21" width="142.5" height="81.7" fill="#000"/>
<rect x="385.6" y="15.3" width="142.4" height="82" fill="#fff" stroke="#333" stroke-width="1"/>
<line x1="392" y1="31.00" x2="440" y2="31.00" stroke="#000" stroke-width="1.60"/>
<rect x="411.75" y="26.85" width="8.30" height="8.30" fill="#000"/>
<text x="445.6" y="38.70" font-family="Liberation Serif" font-weight="bold" font-size="21" fill="#000">KT</text>
<line x1="392" y1="57.70" x2="440" y2="57.70" stroke="#000" stroke-width="1.10"/>
<polygon points="410.30,54.20 421.90,54.20 416.10,64.20" fill="#000"/>
<text x="445.6" y="65.40" font-family="Liberation Serif" font-weight="bold" font-size="21" fill="#000">KTM</text>
<line x1="392" y1="84.30" x2="440" y2="84.30" stroke="#000" stroke-width="1.10"/>
<polygon points="416.20,78.60 422.10,88.00 410.30,88.00" fill="#000"/>
<text x="445.6" y="92.00" font-family="Liberation Serif" font-weight="bold" font-size="21" fill="#000">Fe-KTM</text>
</svg>
</body></html>
